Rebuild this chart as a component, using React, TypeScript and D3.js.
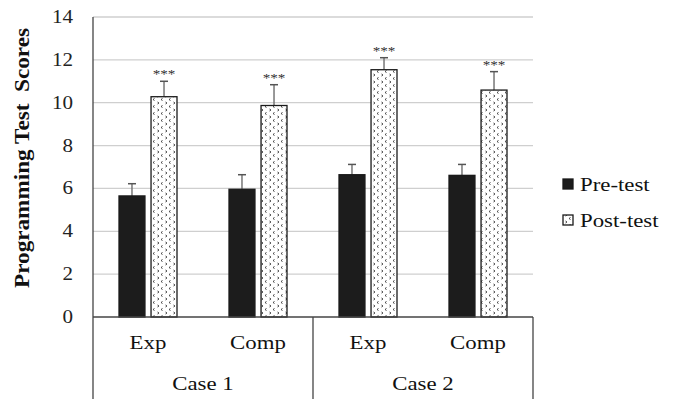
import { useEffect, useRef } from "react";
import * as d3 from "d3";

const cases = ["Case 1", "Case 2"];
const groups = ["Exp", "Comp", "Exp", "Comp"];
const series = ["Pre-test", "Post-test"];
const preVals = [5.65, 5.96, 6.64, 6.61];
const preErr = [0.57, 0.68, 0.48, 0.51];
const postVals = [10.28, 9.87, 11.54, 10.59];
const postErr = [0.72, 0.97, 0.56, 0.86];
const yTicks = [0, 2, 4, 6, 8, 10, 12, 14];

const W = 673;
const H = 399;
const FONT = "Liberation Serif";
const SX = 1.17; // the source text is a bit wider than tall

export default function App() {
  const svgRef = useRef<SVGSVGElement>(null);

  useEffect(() => {
    const svg = d3.select(svgRef.current);
    svg.selectAll("*").remove();

    const left = 93, right = 533, top = 17, bottom = 317;

    const y = d3.scaleLinear().domain([0, 14]).range([bottom, top]);
    const x = d3.scaleBand<number>().domain(d3.range(groups.length)).range([left, right]);
    const caseX = d3.scaleBand<number>().domain(d3.range(cases.length)).range([left, right]);
    const inner = d3.scaleBand<number>().domain([0, 1]).range([-29, 29]).paddingInner(0.19);

    const label = (g: any, px: number, py: number, txt: string, size: number, anchor = "middle") =>
      g.append("text")
        .attr("transform", `translate(${px},${py}) scale(${SX},1)`)
        .attr("text-anchor", anchor)
        .style("font-family", FONT).style("font-size", `${size}px`)
        .attr("fill", "#111").text(txt);

    // dotted pattern for post-test
    const defs = svg.append("defs");
    const pat = defs.append("pattern")
      .attr("id", "dots").attr("patternUnits", "userSpaceOnUse")
      .attr("width", 8).attr("height", 7);
    pat.append("rect").attr("width", 8).attr("height", 7).attr("fill", "#fff");
    pat.append("path").attr("d", "M2.5,0.5 L1,1.5 L2.5,2.5").attr("fill", "none").attr("stroke", "#333").attr("stroke-width", 0.9);
    pat.append("path").attr("d", "M5.5,4 L7,5 L5.5,6").attr("fill", "none").attr("stroke", "#333").attr("stroke-width", 0.9);

    // gridlines
    svg.append("g").selectAll("line").data(yTicks.filter((t) => t > 0)).join("line")
      .attr("x1", left).attr("x2", right)
      .attr("y1", (d) => y(d)).attr("y2", (d) => y(d))
      .attr("stroke", "#cfcfcf").attr("stroke-width", 1.3);

    // y tick labels
    const yl = svg.append("g");
    yTicks.forEach((t) => label(yl, 73, y(t) + 6, String(t), 18, "end").attr("fill", "#222"));

    // y title
    svg.append("text")
      .attr("transform", `translate(29,${158}) rotate(-90)`)
      .attr("text-anchor", "middle")
      .style("font-family", FONT).style("font-weight", "bold").style("font-size", "20px")
      .style("white-space", "pre")
      .attr("textLength", 260).attr("lengthAdjust", "spacingAndGlyphs")
      .attr("fill", "#111")
      .text("Programming Test  Scores");

    const bars = svg.append("g");
    groups.forEach((_, i) => {
      const cx = x(i)! + x.bandwidth() / 2;
      [0, 1].forEach((s) => {
        const v = s === 0 ? preVals[i] : postVals[i];
        const e = s === 0 ? preErr[i] : postErr[i];
        const bx = cx + inner(s)!;
        const bw = inner.bandwidth();
        const mid = bx + bw / 2;
        bars.append("line")
          .attr("x1", mid).attr("x2", mid).attr("y1", y(v)).attr("y2", y(v + e))
          .attr("stroke", "#777").attr("stroke-width", 1.5);
        bars.append("line")
          .attr("x1", mid - 4).attr("x2", mid + 4).attr("y1", y(v + e)).attr("y2", y(v + e))
          .attr("stroke", "#555").attr("stroke-width", 1.5);
        bars.append("rect")
          .attr("x", bx).attr("y", y(v)).attr("width", bw).attr("height", bottom - y(v))
          .attr("fill", s === 0 ? "#1c1c1c" : "url(#dots)")
          .attr("stroke", "#1a1a1a").attr("stroke-width", 1.3);
        if (s === 1) {
          label(bars, mid, y(v + e) - 3, "***", 13).attr("fill", "#333");
        }
      });
    });

    // axes lines
    const ax = svg.append("g").attr("stroke", "#444").attr("stroke-width", 1.3);
    ax.append("line").attr("x1", left).attr("x2", left).attr("y1", top).attr("y2", H);
    ax.append("line").attr("x1", left).attr("x2", right).attr("y1", bottom).attr("y2", bottom);
    [1, 2].forEach((c) => {
      const xx = c < 2 ? caseX(c)! : right;
      ax.append("line").attr("x1", xx).attr("x2", xx).attr("y1", bottom).attr("y2", H);
    });

    // category labels
    const cl = svg.append("g");
    groups.forEach((g, i) => label(cl, x(i)! + x.bandwidth() / 2, 349, g, 19.5));
    cases.forEach((c, i) => label(cl, caseX(i)! + caseX.bandwidth() / 2, 390, c, 19.5));

    // legend
    const lg = svg.append("g");
    series.forEach((s, i) => {
      const ly = 184 + i * 36;
      lg.append("rect").attr("x", 563).attr("y", ly - 5).attr("width", 10).attr("height", 10)
        .attr("fill", i === 0 ? "#1c1c1c" : "url(#dots)").attr("stroke", "#1a1a1a").attr("stroke-width", 1.3);
      label(lg, 580, ly + 6.5, s, 19.5, "start");
    });
  }, []);

  return (
    <svg ref={svgRef} width={W} height={H}
      style={{ position: "absolute", left: 0, top: 0, background: "#fff", display: "block", fontFamily: FONT }} />
  );
}
